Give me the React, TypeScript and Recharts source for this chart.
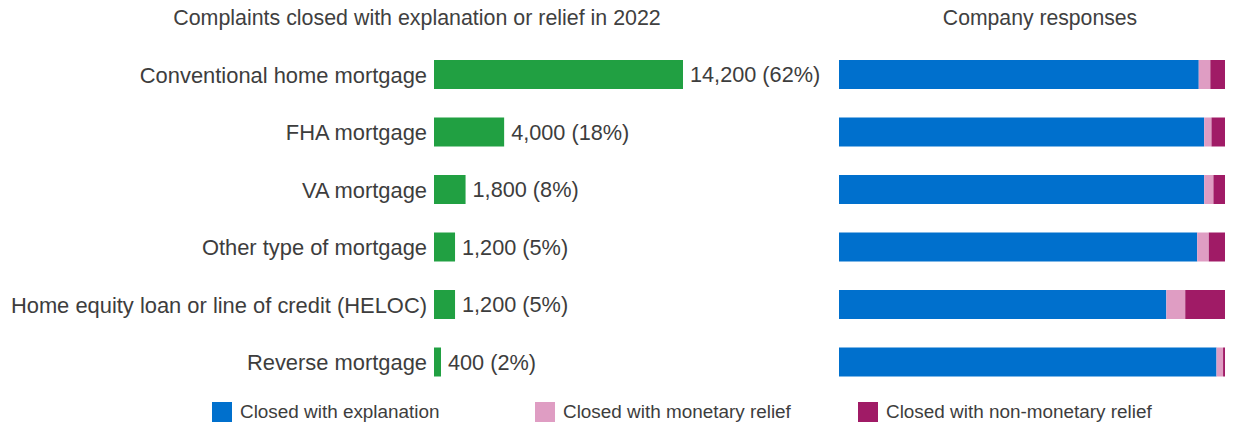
import React from "react";
import { Bar, BarChart, LabelList, XAxis, YAxis } from "recharts";

const categories = [
  "Conventional home mortgage",
  "FHA mortgage",
  "VA mortgage",
  "Other type of mortgage",
  "Home equity loan or line of credit (HELOC)",
  "Reverse mortgage",
];
const complaints = [14200, 4000, 1800, 1200, 1200, 400];
const shares = [62, 18, 8, 5, 5, 2];

const responseNames = [
  "Closed with explanation",
  "Closed with monetary relief",
  "Closed with non-monetary relief",
];
const explanation = [93.2, 94.6, 94.6, 92.8, 84.8, 97.8];
const monetary = [3.0, 1.9, 2.4, 3.0, 4.9, 1.7];
const nonMonetary = [3.8, 3.5, 3.0, 4.2, 10.3, 0.5];

const COLORS = ["#0070cd", "#df9dc3", "#a01b66"];
const GREEN = "#21a042";
const TEXT = "#3d3d3d";
const FONT = "'Liberation Sans', Arial, sans-serif";

const leftData = categories.map((name, i) => ({
  name,
  count: complaints[i],
  share: shares[i],
}));
const rightData = categories.map((name, i) => ({
  name,
  s0: explanation[i],
  s1: monetary[i],
  s2: nonMonetary[i],
}));

const valueLabel = (props: any) => {
  const { x, y, width, height, index } = props;
  const d = leftData[index];
  return (
    <text
      x={x + width + 7}
      y={y + height / 2}
      dy="0.35em"
      fill={TEXT}
      fontSize={21.7}
      fontFamily={FONT}
    >
      {`${d.count.toLocaleString("en-US")} (${d.share}%)`}
    </text>
  );
};

const legendX = [212, 535, 858];

export default function App() {
  return (
    <div
      style={{
        position: "absolute",
        left: 0,
        top: 0,
        width: 1233,
        height: 425,
        background: "#fff",
        fontFamily: FONT,
        color: TEXT,
      }}
    >
      <div
        style={{
          position: "absolute",
          left: 0,
          width: 834,
          top: 6,
          textAlign: "center",
          fontSize: 21.4,
          color: "#404040",
        }}
      >
        Complaints closed with explanation or relief in 2022
      </div>
      <div
        style={{
          position: "absolute",
          left: 847,
          width: 386,
          top: 6,
          textAlign: "center",
          fontSize: 21.2,
          color: "#404040",
        }}
      >
        Company responses
      </div>

      <div style={{ position: "absolute", left: 0, top: 0 }}>
        <BarChart
          width={840}
          height={391}
          data={leftData}
          layout="vertical"
          margin={{ top: 46, right: 157, bottom: 0, left: 0 }}
        >
          <XAxis type="number" hide domain={[0, "dataMax"]} />
          <YAxis
            type="category"
            dataKey="name"
            width={434}
            axisLine={false}
            tickLine={false}
            tickSize={0}
            tickMargin={7}
            tick={{ fill: TEXT, fontSize: 21.9, fontFamily: FONT }}
            interval={0}
          />
          <Bar dataKey="count" fill={GREEN} barSize={29} isAnimationActive={false}>
            <LabelList dataKey="count" content={valueLabel} />
          </Bar>
        </BarChart>
      </div>

      <div style={{ position: "absolute", left: 839, top: 0 }}>
        <BarChart
          width={394}
          height={391}
          data={rightData}
          layout="vertical"
          stackOffset="expand"
          margin={{ top: 46, right: 8, bottom: 0, left: 0 }}
        >
          <XAxis type="number" hide />
          <YAxis type="category" dataKey="name" hide />
          {responseNames.map((n, i) => (
            <Bar
              key={n}
              dataKey={`s${i}`}
              name={n}
              stackId="r"
              fill={COLORS[i]}
              barSize={29}
              isAnimationActive={false}
            />
          ))}
        </BarChart>
      </div>

      {responseNames.map((n, i) => (
        <div
          key={n}
          style={{
            position: "absolute",
            left: legendX[i],
            top: 401,
            display: "flex",
            alignItems: "center",
            fontSize: 18.9,
            whiteSpace: "nowrap",
          }}
        >
          <span
            style={{
              display: "inline-block",
              width: 20,
              height: 20,
              background: COLORS[i],
              marginRight: 8,
            }}
          />
          {n}
        </div>
      ))}
    </div>
  );
}
